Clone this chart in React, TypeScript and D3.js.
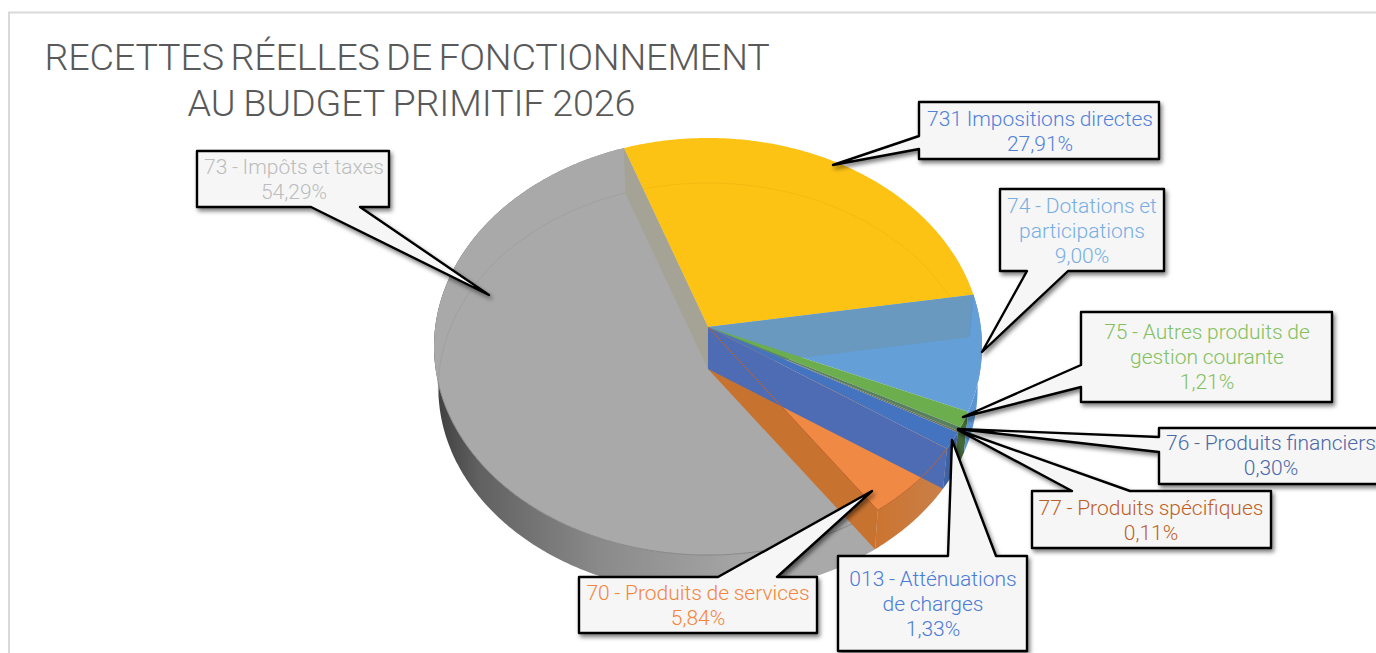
import React, { useMemo } from "react";
import * as d3 from "d3";

// ---- data ----
const categories = ["731 Impositions directes", "74 - Dotations et participations", "75 - Autres produits de gestion courante", "76 - Produits financiers", "77 - Produits spécifiques", "013 - Atténuations de charges", "70 - Produits de services", "73 - Impôts et taxes"];
const shares = [27.91, 9.0, 1.21, 0.3, 0.11, 1.33, 5.84, 54.29];
const shareLabels = ["27,91%", "9,00%", "1,21%", "0,30%", "0,11%", "1,33%", "5,84%", "54,29%"];
const sliceColors = ["#fdc314", "#659fd8", "#6cae4e", "#56805f", "#6d6d50", "#4474bf", "#ef8944", "#a9a9a9"];
const labelColors = ["#4f80da", "#76aee4", "#82c060", "#4a68a8", "#bd5f26", "#4a7bd6", "#f5843c", "#bcbcbc"];
const titleLines = ["RECETTES RÉELLES DE FONCTIONNEMENT", "AU BUDGET PRIMITIF 2026"];

// ---- layout ----
type Box = { lines: string[]; x0: number; y0: number; x1: number; y1: number; tip: [number, number]; side: "l" | "t" | "b"; b0: number; b1: number; tx: number; ty: number };
const boxes: Box[] = [
  { lines: ["731 Impositions directes"], x0: 919, y0: 102, x1: 1159, y1: 159, tip: [833, 165], side: "l", b0: 136, b1: 149, tx: 1040, ty: 126 },
  { lines: ["74 - Dotations et", "participations"], x0: 1000, y0: 189, x1: 1164, y1: 271, tip: [982, 352], side: "b", b0: 1027, b1: 1068, tx: 1082, ty: 213 },
  { lines: ["75 - Autres produits de", "gestion courante"], x0: 1081, y0: 312, x1: 1332, y1: 402, tip: [963, 417], side: "l", b0: 365, b1: 387, tx: 1207, ty: 339 },
  { lines: ["76 - Produits financiers"], x0: 1159, y0: 428, x1: 1382, y1: 484, tip: [958, 429], side: "l", b0: 437, b1: 452, tx: 1271, ty: 450 },
  { lines: ["77 - Produits spécifiques"], x0: 1032, y0: 491, x1: 1271, y1: 548, tip: [958, 430], side: "t", b0: 1072, b1: 1130, tx: 1151, ty: 515 },
  { lines: ["013 - Atténuations", "de charges"], x0: 838, y0: 556, x1: 1027, y1: 651, tip: [952, 440], side: "t", b0: 948, b1: 996, tx: 933, ty: 586 },
  { lines: ["70 - Produits de services"], x0: 579, y0: 577, x1: 817, y1: 633, tip: [872, 491], side: "t", b0: 718, b1: 777, tx: 698, ty: 600 },
  { lines: ["73 - Impôts et taxes"], x0: 197, y0: 151, x1: 389, y1: 207, tip: [489, 295], side: "b", b0: 311, b1: 360, tx: 294, ty: 174 },
];

const CX = 708, TOP_Y = 327, BOT_Y = 369, BOT_S = 0.984;
const A = 272.8, B = 206.7, K = 0.0935;
const START = (-19.6 * Math.PI) / 180;

type P = [number, number];
function project(theta: number, bottom = false): P {
  const u = Math.sin(theta), v = -Math.cos(theta);
  const d = 1 - K * v;
  const s = bottom ? BOT_S : 1;
  return [CX + (s * A * u) / d, (bottom ? BOT_Y : TOP_Y) + (s * B * v) / d];
}
const apex = (bottom = false): P => [CX, bottom ? BOT_Y : TOP_Y];
const lineGen = d3.line<P>();
function arcPts(a: number, b: number, bottom = false): P[] {
  const n = Math.max(2, Math.ceil(Math.abs(b - a) / 0.01));
  return d3.range(n + 1).map((i) => project(a + ((b - a) * i) / n, bottom));
}
const closed = (pts: P[]) => lineGen(pts) + "Z";
const sector = (a: number, b: number) => closed([apex(), ...arcPts(a, b)]);
const band = (a: number, b: number) => closed([...arcPts(a, b), ...arcPts(b, a, true)]);
const cutWall = (t: number) => closed([apex(), project(t), project(t, true), apex(true)]);

function calloutPath(c: Box) {
  const t = c.tip;
  let pts: P[];
  if (c.side === "l") pts = [[c.x0, c.y0], [c.x1, c.y0], [c.x1, c.y1], [c.x0, c.y1], [c.x0, c.b1], t, [c.x0, c.b0]];
  else if (c.side === "t") pts = [[c.x0, c.y0], [c.b0, c.y0], t, [c.b1, c.y0], [c.x1, c.y0], [c.x1, c.y1], [c.x0, c.y1]];
  else pts = [[c.x0, c.y0], [c.x1, c.y0], [c.x1, c.y1], [c.b1, c.y1], t, [c.b0, c.y1], [c.x0, c.y1]];
  return closed(pts);
}

const FONT = "Roboto, sans-serif";

export default function App() {
  const arcs = useMemo(
    () => d3.pie<number>().sort(null).startAngle(START).endAngle(START + 2 * Math.PI)(shares),
    []
  );
  const [yellow, blue, green, fin, spe, att, ora, gray] = arcs;
  return (
    <svg width={1376} height={653} viewBox="0 0 1376 653" style={{ position: "fixed", left: 0, top: 0, display: "block", background: "#fff" }}>
      <defs>
        <filter id="sh" x="-20%" y="-20%" width="140%" height="150%">
          <feDropShadow dx={2} dy={3} stdDeviation={2.2} floodColor="#000" floodOpacity={0.5} />
        </filter>
        <linearGradient id="grayWall" gradientUnits="userSpaceOnUse" x1={436} y1={0} x2={800} y2={0}>
          <stop offset="0" stopColor="#3f3f3f" />
          <stop offset="0.12" stopColor="#616161" />
          <stop offset="0.45" stopColor="#8a8a8a" />
          <stop offset="0.85" stopColor="#a6a6a6" />
          <stop offset="1" stopColor="#a9a9a9" />
        </linearGradient>
        <linearGradient id="orangeWall" gradientUnits="userSpaceOnUse" x1={876} y1={0} x2={945} y2={0}>
          <stop offset="0" stopColor="#cc7431" />
          <stop offset="1" stopColor="#c98048" />
        </linearGradient>
      </defs>

      <path d="M9,653V12.5H1376" fill="none" stroke="#d9d9d9" strokeWidth={2} />

      {/* outer walls */}
      <path d={band(gray.startAngle, gray.endAngle)} fill="url(#grayWall)" />
      <path d={band(ora.startAngle, ora.endAngle)} fill="url(#orangeWall)" />
      <path d={band(att.startAngle, att.endAngle)} fill="#3f63a8" />
      <path d={band(green.startAngle, att.startAngle)} fill="#43693a" />
      <path d={band(yellow.endAngle, blue.endAngle)} fill="#5b96d2" />

      {/* top faces */}
      {[gray, yellow, blue].map((d, i) => (
        <path key={i} d={sector(d.startAngle, d.endAngle)} fill={sliceColors[d.index]} />
      ))}
      <path d={lineGen(arcPts((262 * Math.PI) / 180, gray.endAngle, true))!} fill="none" stroke="#a0a0a0" strokeWidth={1} />
      <path d={lineGen(arcPts(yellow.startAngle, yellow.endAngle, true))!} fill="none" stroke="#f3ba12" strokeWidth={1} />
      <path d={lineGen(arcPts(gray.startAngle, (255 * Math.PI) / 180))!} fill="none" stroke="#868686" strokeWidth={1} />

      {/* inner walls */}
      <path d={cutWall(gray.endAngle - 2 * Math.PI)} fill="#a4a395" />
      <path d={cutWall(yellow.endAngle)} fill="#6999be" />
      <path d={lineGen([project(yellow.endAngle), project(yellow.endAngle, true)])!} stroke="#5b96d2" fill="none" />

      {[green, fin, spe, att, ora].map((d, i) => (
        <path key={i} d={sector(d.startAngle, d.endAngle)} fill={sliceColors[d.index]} />
      ))}
      <path d={cutWall(ora.endAngle)} fill="#c8722f" />
      <path d={cutWall(att.endAngle)} fill="#4e6cb3" />
      <path d={lineGen([apex(), project(ora.endAngle)])!} stroke="#c0622a" strokeWidth={1} fill="none" />
      <path d={lineGen(arcPts(att.endAngle, ora.endAngle))!} stroke="#c0622a" strokeWidth={1} fill="none" />

      {/* title */}
      <g fontFamily={FONT} fontWeight={300} fill="#595959" fontSize={37.7} textAnchor="middle" letterSpacing={-0.15}>
        <text x={407} y={70} wordSpacing={-2.6}>{titleLines[0]}</text>
        <text x={411.5} y={116} wordSpacing={-1}>{titleLines[1]}</text>
      </g>

      {/* callouts */}
      {boxes.map((c, i) => (
        <g key={i}>
          <path d={calloutPath(c)} fill="#f6f6f6" stroke="#000" strokeWidth={2.4} strokeLinejoin="round" filter="url(#sh)" />
          <text fontFamily={FONT} fontWeight={300} fontSize={21} wordSpacing={-0.5} fill={labelColors[i]} textAnchor="middle">
            {[...c.lines, shareLabels[i]].map((l, j) => (
              <tspan key={j} x={c.tx} y={c.ty + j * 25.2}>{l}</tspan>
            ))}
          </text>
        </g>
      ))}
    </svg>
  );
}
